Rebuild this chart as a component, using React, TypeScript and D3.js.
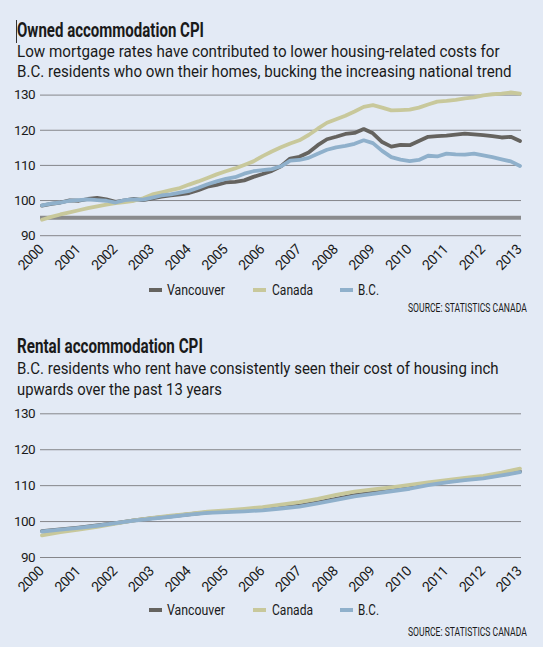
import { useEffect, useRef } from 'react'
import * as d3 from 'd3'

const years = d3.range(2000, 2014)
const yTicks = [90, 100, 110, 120, 130]
const seriesNames = ['Vancouver', 'Canada', 'B.C.']
const seriesColors = ['#65635f', '#c8c89b', '#8fb0cb']

// owned accommodation CPI, quarterly from 2000 to 2013
const ownedTime = d3.range(0, 53).map(i => 2000 + i / 4)
const ownedVancouver = [
  98.4, 98.9, 99.3, 99.9,
  99.8, 100.3, 100.6, 100.2,
  99.5, 99.9, 100.3, 100.0,
  100.5, 101.0, 101.3, 101.6,
  102.0, 102.8, 103.8, 104.3,
  105.0, 105.2, 105.6, 106.6,
  107.4, 108.3, 109.6, 111.8,
  112.3, 113.5, 115.6, 117.3,
  118.0, 118.8, 119.1, 120.2,
  119.0, 116.5, 115.2, 115.7,
  115.6, 116.8, 118.0, 118.2,
  118.3, 118.6, 118.9, 118.7,
  118.5, 118.2, 117.8, 118.0,
  116.8
]
const ownedCanada = [
  94.4, 95.2, 95.9, 96.5,
  97.1, 97.7, 98.2, 98.7,
  99.1, 99.4, 99.8, 100.5,
  101.6, 102.2, 102.8, 103.4,
  104.4, 105.3, 106.3, 107.3,
  108.2, 109.0, 110.0, 111.0,
  112.5, 113.8, 115.0, 116.1,
  117.0, 118.5, 120.3, 122.0,
  123.0, 124.0, 125.2, 126.5,
  127.0, 126.3, 125.5, 125.6,
  125.7, 126.3, 127.2, 128.0,
  128.2, 128.5, 128.9, 129.2,
  129.8, 130.1, 130.3, 130.6,
  130.3
]
const ownedBC = [
  98.5, 99.0, 99.3, 99.8,
  100.0, 100.2, 100.0, 99.8,
  99.3, 100.0, 100.2, 100.1,
  100.7, 101.3, 101.6, 102.1,
  102.6, 103.5, 104.5, 105.3,
  106.0, 106.5, 107.5, 108.2,
  108.5, 108.8, 109.6, 111.2,
  111.4, 112.0, 113.2, 114.3,
  115.0, 115.4, 116.0, 117.0,
  116.2, 114.0, 112.2, 111.5,
  111.1, 111.4, 112.6, 112.4,
  113.2, 113.0, 112.9, 113.2,
  112.7, 112.2, 111.6, 111.0,
  109.7
]

// rental accommodation CPI, half-yearly from 2000 to 2013
const rentTime = d3.range(0, 27).map(i => 2000 + i / 2)
const rentVancouver = [
  97.2, 97.7, 98.2, 98.8, 99.4, 100.2, 100.8, 101.3, 101.9, 102.4,
  102.7, 103.0, 103.3, 103.8, 104.3, 105.2, 106.2, 107.2, 107.9, 108.6,
  109.3, 110.3, 111.0, 111.6, 112.1, 112.9, 113.8
]
const rentCanada = [
  96.0, 96.9, 97.6, 98.4, 99.3, 100.2, 100.9, 101.5, 102.0, 102.6,
  103.0, 103.4, 103.9, 104.6, 105.3, 106.2, 107.3, 108.2, 108.8, 109.4,
  110.1, 110.8, 111.4, 112.0, 112.6, 113.5, 114.6
]
const rentBC = [
  97.1, 97.6, 98.1, 98.7, 99.4, 100.1, 100.7, 101.2, 101.8, 102.3,
  102.5, 102.7, 103.0, 103.5, 104.0, 104.9, 105.9, 106.9, 107.6, 108.3,
  109.0, 110.0, 110.8, 111.4, 111.9, 112.7, 113.6
]

const W = 543
const H = 647
const FONT = 'Roboto, "Noto Sans", sans-serif'

interface Panel {
  title: string
  titleWidth: number
  titleY: number
  lines: { text: string; width: number; y: number }[]
  gridTop: number
  gridBottom: number
  time: number[]
  series: number[][]
  baseline95: boolean
  legendY: number
  sourceY: number
}

const panels: Panel[] = [
  {
    title: 'Owned accommodation CPI',
    titleWidth: 187,
    titleY: 37,
    lines: [
      { text: 'Low mortgage rates have contributed to lower housing-related costs for', width: 483, y: 57 },
      { text: 'B.C. residents who own their homes, bucking the increasing national trend', width: 495, y: 77 }
    ],
    gridTop: 94.6,
    gridBottom: 235.2,
    time: ownedTime,
    series: [ownedVancouver, ownedCanada, ownedBC],
    baseline95: true,
    legendY: 290,
    sourceY: 312
  },
  {
    title: 'Rental accommodation CPI',
    titleWidth: 186,
    titleY: 353,
    lines: [
      { text: 'B.C. residents who rent have consistently seen their cost of housing inch', width: 482, y: 374 },
      { text: 'upwards over the past 13 years', width: 205, y: 395 }
    ],
    gridTop: 413.3,
    gridBottom: 557,
    time: rentTime,
    series: [rentVancouver, rentCanada, rentBC],
    baseline95: false,
    legendY: 610,
    sourceY: 636
  }
]

const legendSwatchX = [149, 253, 340]
const legendTextX = [167, 272, 358]
const legendTextW = [58, 41, 21]

type G = d3.Selection<SVGGElement, unknown, null, undefined>

// squeeze a text horizontally so it spans the given width (condensed newspaper type)
function fitText(g: G, str: string, x: number, y: number, width: number, size: number, weight = 400) {
  const t = g.append('text')
    .attr('font-family', FONT)
    .attr('font-size', size)
    .attr('font-weight', weight)
    .attr('fill', '#1a1a1a')
    .text(str)
  const len = (t.node() as SVGTextElement).getComputedTextLength() || width
  t.attr('transform', `translate(${x},${y}) scale(${width / len},1)`)
  return t
}

function drawPanel(g: G, p: Panel) {
  const x = d3.scaleLinear().domain([2000, 2013]).range([42, 520])
  const y = d3.scaleLinear().domain([90, 130]).range([p.gridBottom, p.gridTop])

  fitText(g, p.title, 17, p.titleY, p.titleWidth, 20, 700)
  p.lines.forEach(l => fitText(g, l.text, 17, l.y, l.width, 16))

  // y grid + labels
  const yAxis = g.append('g')
    .attr('transform', 'translate(40,0)')
    .call(d3.axisLeft(y).tickValues(yTicks).tickSize(-481).tickPadding(5))
  yAxis.select('.domain').remove()
  yAxis.selectAll('line').attr('stroke', '#85868a').attr('stroke-width', 1)
  yAxis.selectAll('text')
    .attr('font-family', FONT)
    .attr('font-size', 13.5)
    .attr('fill', '#1a1a1a')
    .attr('letter-spacing', -0.6)

  if (p.baseline95) {
    g.append('line')
      .attr('x1', 40)
      .attr('x2', 521)
      .attr('y1', y(95))
      .attr('y2', y(95))
      .attr('stroke', '#8a8b8d')
      .attr('stroke-width', 4)
  }

  // x labels, rotated
  const xAxis = g.append('g')
    .attr('transform', `translate(0,${p.gridBottom})`)
    .call(d3.axisBottom(x).tickValues(years).tickFormat(d3.format('d')).tickSize(0))
  xAxis.select('.domain').remove()
  xAxis.selectAll('text')
    .attr('x', 0)
    .attr('y', 0)
    .attr('dy', 0)
    .attr('transform', 'translate(2,15) rotate(-45)')
    .style('text-anchor', 'end')
    .attr('font-family', FONT)
    .attr('font-size', 14)
    .attr('fill', '#1a1a1a')
    .attr('letter-spacing', -0.5)

  const line = d3.line<number>()
    .x((_, i) => x(p.time[i]))
    .y(d => y(d))

  p.series.forEach((s, i) => {
    g.append('path')
      .datum(s)
      .attr('d', line)
      .attr('fill', 'none')
      .attr('stroke', seriesColors[i])
      .attr('stroke-width', 3.8)
      .attr('stroke-linejoin', 'round')
      .attr('stroke-linecap', 'round')
  })

  // legend
  seriesNames.forEach((name, i) => {
    g.append('rect')
      .attr('x', legendSwatchX[i])
      .attr('y', p.legendY - 2)
      .attr('width', 13)
      .attr('height', 4)
      .attr('fill', seriesColors[i])
    fitText(g, name, legendTextX[i], p.legendY + 5, legendTextW[i], 15)
  })

  fitText(g, 'SOURCE: STATISTICS CANADA', 408, p.sourceY, 119, 12)
}

export default function App() {
  const ref = useRef<SVGSVGElement>(null)

  useEffect(() => {
    if (!ref.current) return
    document.body.style.margin = '0'
    const svg = d3.select(ref.current)
    svg.selectAll('*').remove()
    svg.append('rect').attr('width', W).attr('height', H).attr('fill', '#e3eaf5')
    // text cursor mark before the first title
    svg.append('line')
      .attr('x1', 16.5).attr('x2', 16.5)
      .attr('y1', 20).attr('y2', 43)
      .attr('stroke', '#333').attr('stroke-width', 1)
    panels.forEach(p => drawPanel(svg.append('g'), p))
  }, [])

  return (
    <svg
      ref={ref}
      width={W}
      height={H}
      viewBox={`0 0 ${W} ${H}`}
      style={{ position: 'absolute', left: 0, top: 0, display: 'block' }}
    />
  )
}
